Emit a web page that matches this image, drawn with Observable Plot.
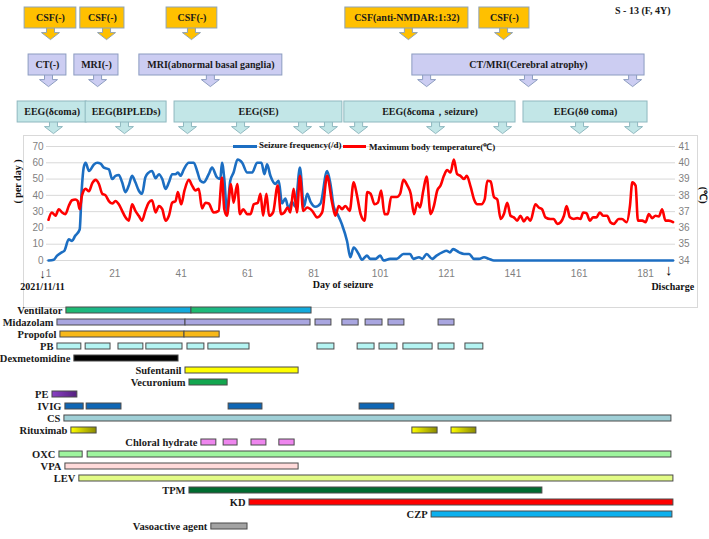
<!DOCTYPE html>
<html><head><meta charset="utf-8">
<script src="https://cdn.jsdelivr.net/npm/d3@7"></script>
<script src="https://cdn.jsdelivr.net/npm/@observablehq/plot@0.6"></script>
<style>
body{margin:0;background:#fff;}
#root{position:relative;width:709px;height:539px;overflow:hidden;}
#root svg{position:absolute;left:0;overflow:visible;}
.frame{position:absolute;left:23px;top:135px;width:673px;height:171px;border:1px solid #d9d9d9;}
.lg{position:absolute;font:bold 9px "Liberation Serif","Times New Roman",serif;color:#111;white-space:nowrap;}
.ln{position:absolute;height:3px;}
</style></head>
<body><div id="root"><div class="frame"></div></div>
<script>
// ---------- line chart data ----------
const seizureDay  = [1,2.6,3.6,5,5.8,7.1,8.1,9,10.4,11,11.6,12.2,13.2,14.7,15.7,16.7,17.7,19.2,20.2,21.2,22.2,23.2,24.2,25.2,26.2,27.2,28.2,29.2,30.2,31.2,32.2,33.3,34.3,35.3,36.3,37.3,38.3,39.3,40,40.8,41.8,43.3,44.8,45.8,46.8,47.8,49.3,50.3,51.8,52.8,53.3,54,54.8,55.8,56.8,58,59.4,60.9,62.4,63.9,65.2,66.1,66.9,67.9,69.4,70.4,71.4,72.4,73.4,74.4,75.4,76.8,78,79,80,81.5,83,85,86,87,88,89.5,91,92,93,94.5,95.5,97,98,99.6,101,102,104,106,108,110,111,112.7,113.7,115,116.7,118,119.7,121,122,123,124.8,126.3,127.8,129.3,130.8,132.3,133.8,135.3,189.3];
const seizureRate = [0,0.5,3,5,6,13,12,15,19,43,57,60,55,59,60,59.5,57,56,50,52,52.5,48,42,46,52,48,43,41,51,54,55,50.5,53,50,44,48,53,53,54,52,56,60,60,55,49,48,53,57,51,50,60,50,30,49,54,62,60,54,54,60,60,53,59,52,47,49,35,38,32,36,33,57,33,41,36,33,35,55,47,33,29,22,12,2,8,4,0.5,3,1,1,3,0,1,1,4,4,1,2,1,4,1,3,5,6,5,7,5,4,4,1,1,2,1,0,0];
const tempDay = [1,2,3.1,4.1,5.1,6.1,7.1,8.1,9.1,9.8,10.4,11.1,12.2,13.2,14.2,15.2,16.2,17.2,18.2,19.2,20.2,21.2,22.2,23.2,24.2,25.2,26.2,27.2,28.2,29.2,30.2,31.2,32.2,33.3,34.3,35.3,36.3,37.3,38.3,39.3,40,41,42,43.3,44.3,45.3,46.3,47.3,48.3,49.3,50.8,52.3,53.3,54,54.8,56,56.8,57.9,58.7,59.7,60.9,61.9,62.9,64.1,64.9,65.7,66.7,67.5,68.7,70.1,71.1,72.1,73.1,73.9,74.9,75.9,76.8,77.8,79,80.5,82,83.5,85,86.5,87.5,88.5,89.5,90.5,91.8,93,94,95.1,96.3,97.1,98.1,99.3,100.3,101.3,102.3,103.3,104.3,106,107,108,109.2,110.2,111.2,112.2,113,114,115,116.2,117.2,118.2,119.2,120.2,121.2,122.2,123.2,124.2,125.2,126.3,127.1,128.3,129.3,130.3,131.5,132.5,133.3,134.3,135.3,136.3,137.3,138.3,139.3,140.3,141.3,142.3,143.3,144.3,145.3,146.3,147.8,148.8,149.8,150.8,152.3,153.3,154.4,155.4,156.4,157.2,158.2,159.4,160.4,161.4,162.2,163.2,164.2,165.2,166.2,167.2,168.2,169.4,170.4,171.4,172.9,173.9,175.3,176.3,177,178,178.7,180,181,182,183,184,185,186,187,188,189.3];
const tempMax = [36.5,36.95,36.75,37.15,36.95,36.85,37.35,37.7,37.75,37.65,37.15,38,38.4,38.25,38.75,38.95,38.7,38.1,38,37.65,37.5,37.65,37.45,37.05,36.65,36.45,37.45,37.05,36.75,36.45,37.05,37.55,37.7,36.95,37.35,37.15,36.45,36.75,37.55,37.65,38.2,37.45,38.3,38.95,38.6,38.3,38.4,37.2,37.55,37.5,36.95,37.05,39.1,37.15,36.75,38.7,37.55,38.7,36.85,37.15,36.85,36.85,37.45,37.55,38.1,36.75,38.1,36.75,36.95,38.6,36.85,36.95,37.25,36.95,38.4,36.95,39.2,37.05,37.25,37.05,36.65,36.95,39.2,37.55,36.75,37.35,37.15,37.35,37.05,38.8,38,36.85,36.45,38.2,38.1,37.45,37.55,38.3,36.85,36.85,37.9,37.9,38.1,38.95,38.6,38.1,36.85,37.55,37.25,38.3,39.15,36.85,37.35,38.3,38.6,39.2,39.55,39.4,40.2,39.3,39.2,39,39.2,38.5,37.75,37.45,37.45,37.75,38.9,38.85,37.9,37.75,36.55,36.85,37.55,36.75,36.65,36.45,36.75,36.4,36.65,36.45,37.45,37.25,37.15,36.65,36.55,36.55,36.25,36.35,36.75,37.35,36.65,36.55,36.6,36.55,36.95,36.9,36.45,36.65,36.65,36.95,36.75,36.75,36.35,36.25,36.55,36.55,36.35,37.35,38.8,38.6,36.45,36.45,36.35,36.85,36.6,36.75,36.7,37.15,36.45,36.45,36.35];
const xTicks = [1,21,41,61,81,101,121,141,161,181];
const leftTicks = [0,10,20,30,40,50,60,70];
const rightTicks = [34,35,36,37,38,39,40,41];
const markerDays = [1, 188];
const markerLabels = ["2021/11/11", "Discharge"];

// ---------- examination callouts: [label, first day, last day, arrow days] ----------
const csfTests = [
  ["CSF(-)", -6.2, 9.4, [1.6]],
  ["CSF(-)", 10.6, 23.9, [18.5]],
  ["CSF(-)", 36.6, 51.9, [44.1]],
  ["CSF(anti-NMDAR:1:32)", 90.5, 127.6, [109.5]],
  ["CSF(-)", 130.9, 146, [138.2]]
];
const imagingTests = [
  ["CT(-)", -5, 6.4, [1]],
  ["MRI(-)", 8.8, 22.1, [15.8]],
  ["MRI(abnormal basal ganglia)", 28.4, 71.5, [49.8]],
  ["CT/MRI(Cerebral atrophy)", 110.7, 180.7, [115, 145.7, 177.1]]
];
const eegTests = [
  ["EEG(δcoma)", -8.3, 12.5, [2.5]],
  ["EEG(BIPLEDs)", 12.2, 36.6, [23.9]],
  ["EEG(SE)", 39, 89.6, [42.9, 58.9, 77.6, 85.4]],
  ["EEG(δcoma，seizure)", 90.2, 141.8, [94.5, 117.7, 137.9]],
  ["EEG(δθ coma)", 144.2, 181.6, [161.1, 177.4]]
];

// ---------- treatment periods (days) ----------
const ventilator = [[6.4,44.1],[44.1,80.3]];
const midazolam = [[3.7,42.3],[42.3,80],[81.5,86.3],[89.6,94.5],[96.6,101.7],[103.5,108.3],[118.6,123.4]];
const propofol = [[4.6,42],[42,52.6]];
const pb = [[3.7,10.9],[12.2,19.7],[22.1,29.6],[30.5,41.4],[42.9,48],[49.2,61.6],[82.1,87.2],[94.2,99.3],[100.8,106.2],[108,116.8],[118.6,123.4],[126.7,132.1]];
const dexmetomidine = [[8.8,40.2]];
const sufentanil = [[42.3,76.4]];
const vecuronium = [[43.5,55]];
const pe = [[2.2,9.7]];
const ivig = [[6.1,11.6],[12.5,23],[55.3,65.5],[94.8,105.3]];
const cs = [[5.8,188.8]];
const rituximab = [[7.9,15.5],[110.7,118.3],[122.5,130]];
const chloralHydrate = [[47.1,51.6],[53.8,58],[62.2,66.7],[70.6,75.2]];
const oxc = [[4.3,11.3],[12.8,188.8]];
const vpa = [[6.1,76.4]];
const lev = [[10.3,189.4]];
const tpm = [[43.5,149.9]];
const kd = [[61.6,189.4]];
const czp = [[116.5,189.1]];
const vasoactive = [[50.1,61]];
const treatmentNames = ["Ventilator","Midazolam","Propofol","PB","Dexmetomidine","Sufentanil","Vecuronium","PE","IVIG","CS","Rituximab","Chloral hydrate","OXC","VPA","LEV","TPM","KD","CZP","Vasoactive agent"];
const treatmentPeriods = [ventilator,midazolam,propofol,pb,dexmetomidine,sufentanil,vecuronium,pe,ivig,cs,rituximab,chloralHydrate,oxc,vpa,lev,tpm,kd,czp,vasoactive];

// ---------- styles ----------
const SERIF = '"Liberation Serif","Times New Roman",serif';
const xDomain = [0.397, 190.03];
const barFill = {"Ventilator":"url(#gVent)","Midazolam":"#a9a6e0","Propofol":"#f7b818","PB":"#b4f4f2","Dexmetomidine":"#000000","Sufentanil":"#ffff00","Vecuronium":"#13a64f","PE":"url(#gPE)","IVIG":"#0f66b4","CS":"#9fcfd6","Rituximab":"url(#gRit)","Chloral hydrate":"#ee86ee","OXC":"#9ef59e","VPA":"#ffdada","LEV":"#e2fb86","TPM":"#006b30","KD":"#ff0000","CZP":"#0cb0ee","Vasoactive agent":"#a3a3a3"};
const boxFill = {CSF:"#ffc000", Imaging:"#cccdf2", EEG:"#c2e6e7"};
const boxStroke = {CSF:"#8fa3b5", Imaging:"#8c9cc0", EEG:"#8fb8bf"};

const root = document.getElementById("root");
function place(svg, y){ svg.style.top = y + "px"; root.appendChild(svg); }

// ---------- line chart ----------
const seizure = seizureDay.map((d,i)=>({day:d, v:seizureRate[i]}));
const temp = tempDay.map((d,i)=>({day:d, t:tempMax[i]}));
const chart = Plot.plot({
  width:709, height:172, marginLeft:46, marginRight:34, marginTop:11, marginBottom:47,
  x:{domain:xDomain, axis:null},
  y:{domain:[0,70], axis:null},
  style:{fontFamily:'"Liberation Sans",Arial,sans-serif', fontSize:"10px", background:"transparent"},
  marks:[
    Plot.ruleY(leftTicks, {stroke:"#d9d9d9", strokeWidth:1}),
    Plot.axisY(leftTicks, {anchor:"left", tickSize:0, tickPadding:3, color:"#7f7f7f", label:null}),
    Plot.axisY(rightTicks.map(t=>(t-34)*10), {anchor:"right", tickSize:0, tickPadding:3, tickFormat:v=>v/10+34, color:"#7f7f7f", label:null}),
    Plot.axisX(xTicks, {anchor:"bottom", tickSize:0, tickPadding:9, color:"#7f7f7f", label:null}),
    Plot.lineY(seizure, {x:"day", y:"v", stroke:"#1c6ec2", strokeWidth:2.6, curve:"monotone-x"}),
    Plot.lineY(temp, {x:"day", y:d=>(d.t-34)*10, stroke:"#ff0000", strokeWidth:2.6, curve:"monotone-x"}),
    Plot.text(["( per day )"], {frameAnchor:"left", rotate:-90, dx:-29, fontFamily:SERIF, fontWeight:"bold", fontSize:10, fill:"#111"}),
    Plot.text(["(℃)"], {frameAnchor:"right", rotate:90, dx:28, fontFamily:SERIF, fontWeight:"bold", fontSize:10, fill:"#111"}),
    Plot.text(["Day of seizure"], {frameAnchor:"bottom", dx:-18, dy:27, fontFamily:SERIF, fontWeight:"bold", fontSize:10, fill:"#111"}),
    Plot.text([markerDays[0]], {x:d=>d, text:()=>"↓", frameAnchor:"bottom", dx:-6, dy:17, fontFamily:SERIF, fontSize:13, fill:"#111"}),
    Plot.text([markerDays[1]], {x:d=>d, text:()=>"↓", frameAnchor:"bottom", dy:14, fontFamily:SERIF, fontSize:15, fill:"#111"}),
    Plot.text([markerDays[0]], {x:d=>d, text:()=>markerLabels[0], frameAnchor:"bottom", dx:-6, dy:29, fontFamily:SERIF, fontWeight:"bold", fontSize:10, fill:"#111"}),
    Plot.text([markerDays[1]], {x:d=>d, text:()=>markerLabels[1], frameAnchor:"bottom", dx:4, dy:29, fontFamily:SERIF, fontWeight:"bold", fontSize:10, fill:"#111"})
  ]
});
place(chart, 135);

// legend
const lg = [
  ["ln", 233, 145, 24, "#1c6ec2"], ["lg", 259, 140, 0, "Seizure frequency(/d)"],
  ["ln", 343, 145, 23, "#ff0000"], ["lg", 369, 140, 0, "Maximum body temperature(℃)"]
];
for (const [cls, l, t, w, v] of lg) {
  const el = document.createElement("div");
  el.className = cls; el.style.left = l + "px"; el.style.top = t + "px";
  if (cls === "ln") { el.style.width = w + "px"; el.style.background = v; } else el.textContent = v;
  root.appendChild(el);
}

// ---------- treatments (Gantt) ----------
const bars = treatmentNames.flatMap((name,i)=>treatmentPeriods[i].map(([s,e])=>({row:name, s, e})));
const firsts = treatmentNames.map((name,i)=>({row:name, s:treatmentPeriods[i][0][0]}));
const gantt = Plot.plot({
  width:709, height:243, marginLeft:46, marginRight:34, marginTop:2, marginBottom:1,
  x:{domain:xDomain, axis:null},
  y:{domain:treatmentNames, axis:null, padding:0},
  color:{type:"identity"},
  style:{fontFamily:SERIF, fontSize:"10.5px", fontWeight:"bold", background:"transparent"},
  marks:[
    Plot.barX(bars, {x1:"s", x2:"e", y:"row", fill:d=>barFill[d.row], stroke:"#4a4a4a", strokeWidth:1, insetTop:3, insetBottom:3}),
    Plot.text(firsts, {x:"s", y:"row", text:"row", textAnchor:"end", dx:-4, fill:"#1a1a1a"})
  ]
});
const defs = d3.select(gantt).insert("defs", ":first-child");
function grad(id, c1, c2){
  const g = defs.append("linearGradient").attr("id", id).attr("x1",0).attr("x2",1).attr("y1",0).attr("y2",0);
  g.append("stop").attr("offset",0).attr("stop-color",c1);
  g.append("stop").attr("offset",1).attr("stop-color",c2);
}
grad("gVent", "#1fbb6c", "#12a9e2");
grad("gPE", "#8a40c4", "#55207e");
grad("gRit", "#ffff00", "#8a8a00");
place(gantt, 296);

// ---------- examination callouts ----------
const callouts = [
  ...csfTests.map(([label,s,e,a])=>({row:"CSF", label, s, e, a})),
  ...imagingTests.map(([label,s,e,a])=>({row:"Imaging", label, s, e, a})),
  ...eegTests.map(([label,s,e,a])=>({row:"EEG", label, s, e, a}))
];
const arrows = callouts.flatMap(c=>c.a.map(x=>({row:c.row, x})));
const downArrow = {draw(ctx){
  ctx.moveTo(-4,-3); ctx.lineTo(4,-3); ctx.lineTo(4,4); ctx.lineTo(9,4);
  ctx.lineTo(0,11); ctx.lineTo(-9,4); ctx.lineTo(-4,4); ctx.closePath();
}};
const calloutPlot = Plot.plot({
  width:709, height:135, marginLeft:46, marginRight:34, marginTop:0, marginBottom:6,
  x:{domain:xDomain, axis:null},
  y:{domain:["CSF","Imaging","EEG"], axis:null, paddingInner:0.55, paddingOuter:0.147},
  color:{type:"identity"},
  style:{fontFamily:SERIF, fontSize:"10px", fontWeight:"bold", background:"transparent"},
  marks:[
    Plot.dot(arrows, {x:"x", y:"row", dy:10.6, symbol:downArrow, r:5, fill:d=>boxFill[d.row], stroke:d=>boxStroke[d.row], strokeWidth:1}),
    Plot.barX(callouts, {x1:"s", x2:"e", y:"row", fill:d=>boxFill[d.row], stroke:d=>boxStroke[d.row], strokeWidth:1}),
    Plot.text(callouts, {x:d=>(d.s+d.e)/2, y:"row", text:"label", fill:"#1a1a1a"}),
    Plot.text(["S - 13 (F, 4Y)"], {frameAnchor:"top-right", textAnchor:"end", dx:-5, dy:6, fill:"#1a1a1a"})
  ]
});
place(calloutPlot, 0);
</script>
</body></html>
